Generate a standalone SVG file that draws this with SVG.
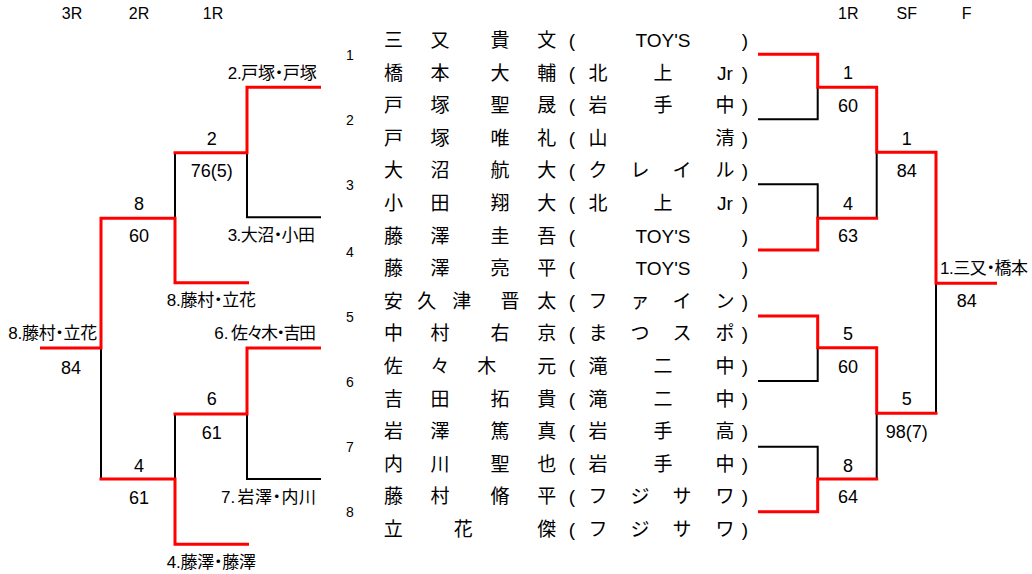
<svg xmlns="http://www.w3.org/2000/svg" width="1032" height="574" viewBox="0 0 1032 574">
<style>
text{font-family:"Liberation Sans","Noto Sans CJK JP",sans-serif;fill:#000;}
.hd{font-size:16px;text-anchor:middle;}
.num{font-size:18px;text-anchor:middle;}
.lbl{font-size:17px;font-feature-settings:"palt";}
.pn{font-size:14px;text-anchor:middle;}
.nm{font-size:19px;text-anchor:middle;}
.blk{fill:none;stroke:#000;stroke-width:2;}
.red{fill:none;stroke:#FF0000;stroke-width:3;}
</style>
<rect width="1032" height="574" fill="#fff"/>
<g id="connectors">
  <g id="black-lines">
    <path class="blk" d="M175,152.7 V218.3"/>
    <path class="blk" d="M247,152.7 V217.3 H321"/>
    <path class="blk" d="M101,348 V479"/>
    <path class="blk" d="M175,414 V479"/>
    <path class="blk" d="M247,414 V479 H321"/>
    <path class="blk" d="M758,119.3 H817.7 V87.3"/>
    <path class="blk" d="M758,184.3 H817.7 V218.3"/>
    <path class="blk" d="M876.7,152.3 V218.3"/>
    <path class="blk" d="M936,283.3 V413.3"/>
    <path class="blk" d="M758,381 H817.7 V347.7"/>
    <path class="blk" d="M758,446.7 H817.7 V479"/>
    <path class="blk" d="M876.7,413.3 V479"/>
  </g>
  <g id="red-lines">
    <path class="red" d="M321,87.3 H247 V152.7 H173.5"/>
    <path class="red" d="M249,282.7 H175 V218.3 H101 V348 H40"/>
    <path class="red" d="M321,348 H247 V414 H173.5"/>
    <path class="red" d="M249,544.3 H175 V479 H99.5"/>
    <path class="red" d="M758,54.3 H817.7 V87.3 H876.7 V152.3 H936 V283.3 H997"/>
    <path class="red" d="M758,250 H817.7 V218.3 H878.2"/>
    <path class="red" d="M758,316 H817.7 V347.7 H876.7 V413.3 H937.5"/>
    <path class="red" d="M758,511.7 H817.7 V479 H878.2"/>
  </g>
</g>
<g id="headers">
  <text class="hd" x="72" y="18.7">3R</text>
  <text class="hd" x="139" y="18.7">2R</text>
  <text class="hd" x="213" y="18.7">1R</text>
  <text class="hd" x="848.3" y="18.7">1R</text>
  <text class="hd" x="906.7" y="18.7">SF</text>
  <text class="hd" x="966.7" y="18.7">F</text>
</g>
<g id="pair1">
  <text class="pn" x="350" y="60">1</text>
  <text class="nm" x="393.5 440 500 546.7" y="47">三又貴文</text>
  <text class="nm" y="47"><tspan x="572">(</tspan><tspan x="663">TOY'S</tspan><tspan x="745">)</tspan></text>
  <text class="nm" x="393.5 440 500 546.7" y="79.6">橋本大輔</text>
  <text class="nm" y="79.6"><tspan x="572">(</tspan><tspan x="598">北</tspan><tspan x="663">上</tspan><tspan x="725">Jr</tspan><tspan x="745">)</tspan></text>
</g>
<g id="pair2">
  <text class="pn" x="350" y="125">2</text>
  <text class="nm" x="393.5 440 500 546.7" y="112.2">戸塚聖晟</text>
  <text class="nm" x="572 598 663 725 745" y="112.2">(岩手中)</text>
  <text class="nm" x="393.5 440 500 546.7" y="144.8">戸塚唯礼</text>
  <text class="nm" x="572 598 725 745" y="144.8">(山清)</text>
</g>
<g id="pair3">
  <text class="pn" x="350" y="190">3</text>
  <text class="nm" x="393.5 440 500 546.7" y="177.4">大沼航大</text>
  <text class="nm" x="572 598 640 682 725 745" y="177.4">(クレイル)</text>
  <text class="nm" x="393.5 440 500 546.7" y="210">小田翔大</text>
  <text class="nm" y="210"><tspan x="572">(</tspan><tspan x="598">北</tspan><tspan x="663">上</tspan><tspan x="725">Jr</tspan><tspan x="745">)</tspan></text>
</g>
<g id="pair4">
  <text class="pn" x="350" y="256.7">4</text>
  <text class="nm" x="393.5 440 500 546.7" y="242.6">藤澤圭吾</text>
  <text class="nm" y="242.6"><tspan x="572">(</tspan><tspan x="663">TOY'S</tspan><tspan x="745">)</tspan></text>
  <text class="nm" x="393.5 440 500 546.7" y="275.2">藤澤亮平</text>
  <text class="nm" y="275.2"><tspan x="572">(</tspan><tspan x="663">TOY'S</tspan><tspan x="745">)</tspan></text>
</g>
<g id="pair5">
  <text class="pn" x="350" y="321.7">5</text>
  <text class="nm" x="393.3 426.7 461.7 510 546.7" y="307.8">安久津晋太</text>
  <text class="nm" x="572 598 640 682 725 745" y="307.8">(ファイン)</text>
  <text class="nm" x="393.5 440 500 546.7" y="340.4">中村右京</text>
  <text class="nm" x="572 598 640 682 725 745" y="340.4">(まつスポ)</text>
</g>
<g id="pair6">
  <text class="pn" x="350" y="386.7">6</text>
  <text class="nm" x="393.3 440 486.7 546.7" y="373">佐々木元</text>
  <text class="nm" x="572 598 663 725 745" y="373">(滝二中)</text>
  <text class="nm" x="393.5 440 500 546.7" y="405.6">吉田拓貴</text>
  <text class="nm" x="572 598 663 725 745" y="405.6">(滝二中)</text>
</g>
<g id="pair7">
  <text class="pn" x="350" y="451.7">7</text>
  <text class="nm" x="393.5 440 500 546.7" y="438.2">岩澤篤真</text>
  <text class="nm" x="572 598 663 725 745" y="438.2">(岩手高)</text>
  <text class="nm" x="393.5 440 500 546.7" y="470.8">内川聖也</text>
  <text class="nm" x="572 598 663 725 745" y="470.8">(岩手中)</text>
</g>
<g id="pair8">
  <text class="pn" x="350" y="516.7">8</text>
  <text class="nm" x="393.5 440 500 546.7" y="503.4">藤村脩平</text>
  <text class="nm" x="572 598 640 682 725 745" y="503.4">(フジサワ)</text>
  <text class="nm" x="393.3 463.3 546.7" y="536">立花傑</text>
  <text class="nm" x="572 598 640 682 725 745" y="536">(フジサワ)</text>
</g>
<g id="left-labels">
  <text class="lbl" x="227.7" y="78.7" textLength="89" lengthAdjust="spacing">2.戸塚・戸塚</text>
  <text class="lbl" x="227.7" y="241" textLength="87.3" lengthAdjust="spacing">3.大沼・小田</text>
  <text class="lbl" x="166.7" y="306" textLength="89.3" lengthAdjust="spacing">8.藤村・立花</text>
  <text class="lbl" x="8.3" y="339" textLength="89" lengthAdjust="spacing">8.藤村・立花</text>
  <text class="lbl" y="339"><tspan x="214.3">6.</tspan><tspan x="231" textLength="85" lengthAdjust="spacing">佐々木・吉田</tspan></text>
  <text class="lbl" y="503"><tspan x="221">7.</tspan><tspan x="237.5" textLength="78.5" lengthAdjust="spacing">岩澤・内川</tspan></text>
  <text class="lbl" x="166.7" y="568" textLength="89.3" lengthAdjust="spacing">4.藤澤・藤澤</text>
</g>
<g id="left-results">
  <text class="num" x="211.7" y="144.5">2</text>
  <text class="num" x="211.7" y="176.5">76(5)</text>
  <text class="num" x="139" y="209.5">8</text>
  <text class="num" x="139" y="241.5">60</text>
  <text class="num" x="71" y="373.5">84</text>
  <text class="num" x="211.7" y="404.5">6</text>
  <text class="num" x="211.7" y="438.5">61</text>
  <text class="num" x="139" y="471.5">4</text>
  <text class="num" x="139" y="503.5">61</text>
</g>
<g id="right-results">
  <text class="num" x="848" y="78.8">1</text>
  <text class="num" x="848" y="112.2">60</text>
  <text class="num" x="906.7" y="144.8">1</text>
  <text class="num" x="906.7" y="176.5">84</text>
  <text class="num" x="848" y="209.8">4</text>
  <text class="num" x="848" y="241.5">63</text>
  <text class="lbl" x="940" y="274" textLength="88" lengthAdjust="spacing">1.三又・橋本</text>
  <text class="num" x="966.7" y="306.5">84</text>
  <text class="num" x="848" y="339.8">5</text>
  <text class="num" x="848" y="372.5">60</text>
  <text class="num" x="906.7" y="404.8">5</text>
  <text class="num" x="906.7" y="438.2">98(7)</text>
  <text class="num" x="848" y="471.5">8</text>
  <text class="num" x="848" y="503.2">64</text>
</g>
</svg>
